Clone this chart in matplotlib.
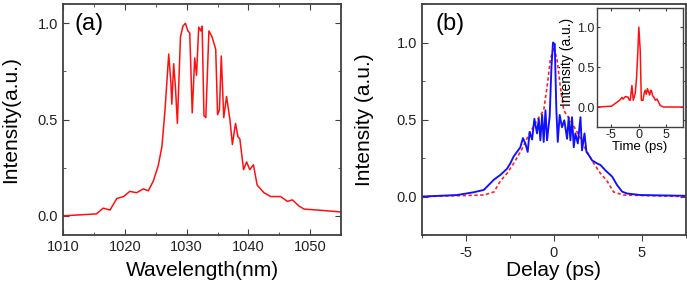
import matplotlib
matplotlib.use("Agg")
import matplotlib.pyplot as plt
from matplotlib.ticker import MultipleLocator

plt.rcParams['font.family'] = ['Liberation Sans', 'DejaVu Sans']
plt.rcParams['axes.unicode_minus'] = False

# (a) spectrum
wl = [1010, 1015.4, 1016.5, 1017.6, 1018.7, 1019.8, 1020.8, 1021.9, 1023, 1023.8,
      1024.6, 1025.4, 1026, 1026.5, 1027.1, 1027.45, 1027.6, 1027.9, 1028.2, 1028.5,
      1029, 1029.4, 1029.8, 1030.2, 1030.5, 1030.9, 1031.3, 1031.6, 1031.95, 1032.3,
      1032.5, 1032.8, 1033.1, 1033.6, 1034.1, 1034.7, 1035, 1035.3, 1035.6, 1036,
      1036.45, 1037, 1037.4, 1037.9, 1038.3, 1038.6, 1039.2, 1039.7, 1040.2, 1040.8,
      1041.4, 1042.5, 1043.6, 1045.2, 1046.3, 1047.1, 1048.2, 1049, 1051.2, 1055]
spec = [0.0, 0.01, 0.04, 0.03, 0.09, 0.10, 0.127, 0.12, 0.14, 0.13,
        0.18, 0.26, 0.36, 0.55, 0.84, 0.69, 0.58, 0.79, 0.66, 0.48,
        0.93, 0.985, 1.0, 0.96, 0.95, 0.535, 0.82, 0.73, 0.98, 0.96,
        0.985, 0.52, 0.51, 0.96, 0.93, 0.865, 0.525, 0.55, 0.83, 0.51,
        0.62, 0.5, 0.37, 0.48, 0.41, 0.40, 0.24, 0.28, 0.24, 0.265,
        0.16, 0.12, 0.10, 0.10, 0.075, 0.083, 0.05, 0.035, 0.03, 0.02]

# (b) autocorrelation, measured (blue)
delay_m = [-7.5, -5.5, -4.55, -3.98, -3.7, -3.4, -3.04, -2.66, -2.47, -2.28, -2.09, -1.9,
           -1.75, -1.6, -1.48, -1.37, -1.23, -1.1, -0.95, -0.85, -0.76, -0.66, -0.57,
           -0.47, -0.38, -0.23, -0.13, -0.04, 0.06, 0.15, 0.23, 0.34, 0.47, 0.6, 0.76,
           0.85, 0.95, 1.04, 1.14, 1.23, 1.37, 1.52, 1.61, 1.75, 1.86, 1.99, 2.18, 2.47,
           2.66, 2.94, 3.32, 3.6, 3.89, 4.17, 4.93, 7.5]
ac_m = [0.0, 0.01, 0.028, 0.043, 0.075, 0.11, 0.14, 0.18, 0.215, 0.26, 0.29, 0.32,
        0.38, 0.34, 0.29, 0.42, 0.37, 0.505, 0.41, 0.505, 0.365, 0.53, 0.355,
        0.56, 0.365, 0.52, 0.84, 1.0, 0.99, 0.56, 0.355, 0.53, 0.45, 0.495, 0.375,
        0.515, 0.365, 0.515, 0.32, 0.41, 0.345, 0.515, 0.30, 0.41, 0.29, 0.27, 0.235, 0.215,
        0.205, 0.17, 0.13, 0.075, 0.032, 0.02, 0.01, 0.005]

# (b) calculated autocorrelation (red dashed)
delay_c = [-7.5, -3.98, -3.4, -3.04, -2.66, -2.28, -1.8, -1.42, -0.95, -0.57, -0.38, -0.19,
           0.0, 0.19, 0.38, 0.57, 0.95, 1.42, 1.8, 2.28, 2.66, 3.04, 3.4, 3.98, 7.5]
ac_c = [0.0, 0.01, 0.03, 0.1, 0.15, 0.215, 0.31, 0.40, 0.495, 0.56, 0.71, 0.89,
        0.97, 0.89, 0.71, 0.56, 0.495, 0.40, 0.31, 0.215, 0.15, 0.1, 0.03, 0.01, 0.0]

# inset: retrieved pulse
t_in = [-7.5, -4.9, -4.3, -3.4, -3.0, -2.8, -2.4, -1.9, -1.7, -1.5, -1.2, -0.95, -0.6,
        -0.35, -0.12, 0.05, 0.3, 0.5, 0.8, 1.0, 1.2, 1.4, 1.6, 1.8, 2.0, 2.2, 2.35,
        2.55, 2.75, 3.05, 3.35, 3.9, 4.5, 8.0]
p_in = [0.0, 0.01, 0.04, 0.085, 0.12, 0.10, 0.13, 0.125, 0.09, 0.085, 0.27, 0.085, 0.17,
        0.38, 0.71, 1.0, 0.71, 0.085, 0.085, 0.17, 0.21, 0.16, 0.23, 0.19, 0.15, 0.21, 0.20,
        0.14, 0.125, 0.085, 0.1, 0.02, 0.0, 0.0]

fig = plt.figure(figsize=(6.87, 2.86), dpi=100)
frame_col = '#404040'

def style(ax, lw=1.3):
    for s in ax.spines.values():
        s.set_color(frame_col)
        s.set_linewidth(lw)
    ax.tick_params(which='both', direction='in', top=True, right=True, colors=frame_col,
                   labelcolor='#222222')
    ax.tick_params(which='major', length=4)
    ax.tick_params(which='minor', length=2)

# ---- panel (a)
axa = fig.add_axes([0.0917, 0.178, 0.405, 0.808])
axa.plot(wl, spec, color='#ff1010', lw=1.1)
axa.set_xlim(1010, 1055)
axa.set_ylim(-0.1, 1.1)
axa.xaxis.set_major_locator(MultipleLocator(10))
axa.xaxis.set_minor_locator(MultipleLocator(5))
axa.set_yticks([0.0, 0.5, 1.0])
axa.set_yticklabels(['0.0', '0.5', '1.0'])
axa.yaxis.set_minor_locator(MultipleLocator(0.25))
style(axa)
axa.tick_params(labelsize=10.5)
axa.set_xlabel('Wavelength(nm)', fontsize=15)
axa.xaxis.set_label_coords(0.5, -0.11)
axa.set_ylabel('Intensity(a.u.)', fontsize=15)
axa.yaxis.set_label_coords(-0.155, 0.5)
axa.text(0.04, 0.96, '(a)', transform=axa.transAxes, fontsize=17, va='top', ha='left')

# ---- panel (b)
axb = fig.add_axes([0.614, 0.178, 0.384, 0.808])
axb.plot(delay_c, ac_c, color='#ff2020', lw=1.2, ls=(0, (2, 1.5)))
axb.plot(delay_m, ac_m, color='#1010ff', lw=1.35)
axb.set_xlim(-7.5, 7.5)
axb.set_ylim(-0.25, 1.25)
axb.xaxis.set_major_locator(MultipleLocator(5))
axb.xaxis.set_minor_locator(MultipleLocator(2.5))
axb.set_yticks([0.0, 0.5, 1.0])
axb.set_yticklabels(['0.0', '0.5', '1.0'])
axb.yaxis.set_minor_locator(MultipleLocator(0.25))
style(axb)
axb.tick_params(axis='x', which='both', direction='out', top=False)
axb.tick_params(labelsize=10.5)
axb.set_xlabel('Delay (ps)', fontsize=15)
axb.xaxis.set_label_coords(0.5, -0.11)
axb.set_ylabel('Intensity (a.u.)', fontsize=15)
axb.yaxis.set_label_coords(-0.18, 0.5)
axb.text(0.05, 0.96, '(b)', transform=axb.transAxes, fontsize=17, va='top', ha='left')

# ---- inset
axi = fig.add_axes([0.869, 0.556, 0.125, 0.416])
axi.plot(t_in, p_in, color='#ff1010', lw=1.1)
axi.set_xlim(-7.5, 8)
axi.set_ylim(-0.25, 1.24)
axi.xaxis.set_major_locator(MultipleLocator(5))
axi.set_yticks([0.0, 0.5, 1.0])
axi.set_yticklabels(['0.0', '0.5', '1.0'])
style(axi, lw=1.0)
axi.tick_params(which='major', length=2.5, labelsize=9, pad=1.5)
axi.tick_params(axis='y', pad=1.5)
axi.set_xlabel('Time (ps)', fontsize=9.5, labelpad=0)
axi.set_ylabel('Intensity (a.u.)', fontsize=10)
axi.yaxis.set_label_coords(-0.27, 0.55)

fig.savefig('out.png', dpi=100)
